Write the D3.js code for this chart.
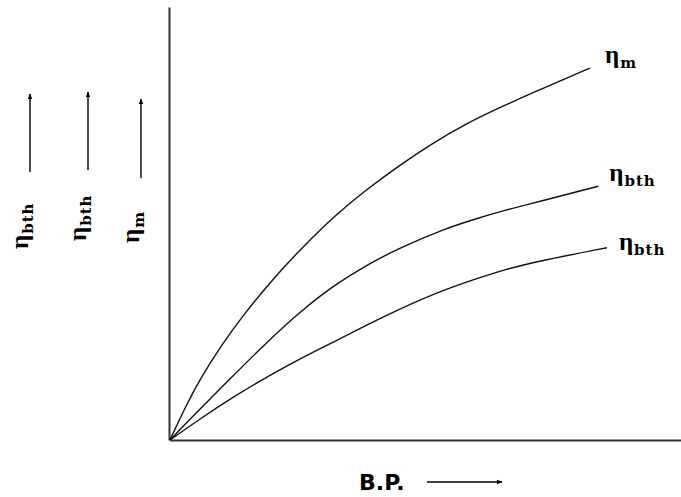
<!DOCTYPE html>
<html>
<head>
<meta charset="utf-8">
<script src="https://cdn.jsdelivr.net/npm/d3@7"></script>
<style>
  body { margin: 0; background: #fff; }
  .axis path { stroke: #333; stroke-width: 2; }
  .curve { fill: none; stroke: #111; stroke-width: 1.4; }
  .eta { font-weight: bold; fill: #000; }
  .eta .g { font-family: "Liberation Serif", serif; }
  .eta .s { font-family: "DejaVu Serif", serif; letter-spacing: 1px; }
  .bp { font-family: "DejaVu Sans", sans-serif; font-weight: bold; font-size: 22px; fill: #000; }
</style>
</head>
<body>
<div id="main"></div>
<script>
// sizes
var svgWidth = 681;
var svgHeight = 497;

// origin of the plot and extent of the axes
var plot = {l: 170, r: 681, t: 7, b: 440};

// B.P. (x) and efficiency (y) in relative units
var etaM = [[0, 0], [2.9, 7.4], [5.9, 14.1], [9.8, 21.5], [14.7, 29.4], [20.0, 37.0],
            [25.8, 44.4], [32.9, 52.5], [38.2, 57.6], [44.6, 63.2], [51.3, 68.5],
            [57.7, 72.9], [64.2, 76.6], [70.8, 80.1], [76.3, 82.9], [82.2, 85.9]];
var etaBth1 = [[0, 0], [4.9, 6.0], [11.4, 13.7], [18.0, 21.5], [25.0, 29.2], [31.9, 35.6],
               [38.6, 40.5], [45.0, 44.4], [53.8, 48.8], [59.3, 50.9], [65.9, 53.2],
               [72.4, 55.1], [83.8, 58.6]];
var etaBth2 = [[0, 0], [5.9, 4.9], [12.7, 10.2], [19.6, 15.0], [26.4, 19.4], [33.3, 23.4],
               [39.1, 26.9], [45.0, 30.3], [52.8, 34.3], [59.3, 37.0], [65.9, 39.5],
               [72.4, 41.4], [85.5, 44.4]];

var curves = [etaM, etaBth1, etaBth2];
var curveLabels = [
  {main: 'η', sub: 'm'},
  {main: 'η', sub: 'bth'},
  {main: 'η', sub: 'bth'}
];
// y-axis labels on the left, from left to right
var yLabels = [
  {main: 'η', sub: 'bth'},
  {main: 'η', sub: 'bth'},
  {main: 'η', sub: 'm'}
];
var xLabel = 'B.P.';

var svg = d3.select('#main')
  .append('svg')
  .attr('width', svgWidth)
  .attr('height', svgHeight);

var xScale = d3.scaleLinear().domain([0, 100]).range([plot.l, plot.r]);
var yScale = d3.scaleLinear().domain([0, 100]).range([plot.b, plot.t]);

// arrow head
svg.append('defs').append('marker')
  .attr('id', 'head')
  .attr('viewBox', '0 0 10 10')
  .attr('refX', 9).attr('refY', 5)
  .attr('markerWidth', 6).attr('markerHeight', 6)
  .attr('markerUnits', 'userSpaceOnUse')
  .attr('orient', 'auto')
  .append('path')
  .attr('d', 'M0,1 L10,5 L0,9 Z')
  .attr('fill', '#000');

// axes, no ticks
svg.append('g')
  .attr('class', 'axis')
  .attr('transform', `translate(0, ${plot.b})`)
  .call(d3.axisBottom(xScale).tickValues([]).tickSizeOuter(0));

svg.append('g')
  .attr('class', 'axis')
  .attr('transform', `translate(${plot.l - 1}, 0)`)
  .call(d3.axisLeft(yScale).tickValues([]).tickSizeOuter(0));

// curves
var line = d3.line()
  .x(function(d) { return xScale(d[0]); })
  .y(function(d) { return yScale(d[1]); })
  .curve(d3.curveBasis);

svg.selectAll('.curve')
  .data(curves)
  .enter()
  .append('path')
  .attr('class', 'curve')
  .attr('d', line);

// η with a subscript
function etaText(sel) {
  sel.append('tspan').attr('class', 'g').text(function(d) { return d.main; }).style('font-size', '25px');
  sel.append('tspan').attr('class', 's').text(function(d) { return d.sub; })
    .style('font-size', '15px')
    .attr('dx', 1)
    .attr('dy', 5);
}

// labels at the end of each curve
var labelOffsets = [[15, -5], [11, -5], [12, 2]];

svg.selectAll('.end-label')
  .data(curveLabels)
  .enter()
  .append('text')
  .attr('class', 'eta end-label')
  .attr('x', function(d, i) {
    var last = curves[i][curves[i].length - 1];
    return xScale(last[0]) + labelOffsets[i][0];
  })
  .attr('y', function(d, i) {
    var last = curves[i][curves[i].length - 1];
    return yScale(last[1]) + labelOffsets[i][1];
  })
  .call(etaText);

// rotated labels + up arrows on the left
var leftX = [28, 86, 139];
var leftBottom = [249, 241, 243];
var arrowSpan = [[172, 94], [170, 92], [178, 99]];

var left = svg.selectAll('.left-label')
  .data(yLabels)
  .enter()
  .append('g')
  .attr('class', 'left-label');

left.append('text')
  .attr('class', 'eta')
  .attr('transform', function(d, i) { return `translate(${leftX[i]}, ${leftBottom[i]}) rotate(-90)`; })
  .call(etaText);

left.append('line')
  .attr('x1', function(d, i) { return leftX[i] + 2; })
  .attr('x2', function(d, i) { return leftX[i] + 2; })
  .attr('y1', function(d, i) { return arrowSpan[i][0]; })
  .attr('y2', function(d, i) { return arrowSpan[i][1]; })
  .attr('stroke', '#000')
  .attr('stroke-width', 1.4)
  .attr('marker-end', 'url(#head)');

// x label + arrow
svg.append('text')
  .attr('class', 'bp')
  .attr('x', 359)
  .attr('y', 490)
  .text(xLabel);

svg.append('line')
  .attr('x1', 427).attr('x2', 502)
  .attr('y1', 482).attr('y2', 482)
  .attr('stroke', '#000')
  .attr('stroke-width', 1.4)
  .attr('marker-end', 'url(#head)');
</script>
</body>
</html>
